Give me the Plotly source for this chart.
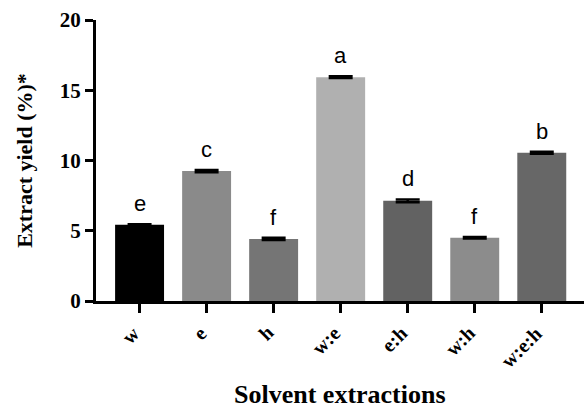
import plotly.graph_objects as go

categories = ["w", "e", "h", "w:e", "e:h", "w:h", "w:e:h"]
yields = [5.42, 9.25, 4.42, 15.93, 7.13, 4.50, 10.55]
errors = [0.05, 0.08, 0.08, 0.06, 0.10, 0.06, 0.07]
letters = ["e", "c", "f", "a", "d", "f", "b"]
colors = ["#000000", "#8a8a8a", "#757575", "#b0b0b0", "#626262", "#8c8c8c", "#676767"]
y_ticks = [0, 5, 10, 15, 20]

serif = "Liberation Serif"
PLOT_BOTTOM = 301.0
PLOT_H = 281.0

fig = go.Figure()
fig.add_trace(go.Bar(
    x=list(range(len(categories))), y=yields,
    marker=dict(color=colors, line=dict(width=0)),
    width=0.73,
    error_y=dict(type="data", array=errors, visible=True, color="black", thickness=2.5, width=12),
    showlegend=False,
))

# significance letters
for i, (v, e, t) in enumerate(zip(yields, errors, letters)):
    fig.add_annotation(x=i, y=v + e, text=t, showarrow=False, yanchor="bottom", yshift=6,
                       font=dict(family="Liberation Sans", size=22, color="black"))

# rotated category labels
for i, c in enumerate(categories):
    fig.add_annotation(x=i, xref="x", y=-(319 - PLOT_BOTTOM) / PLOT_H, yref="paper",
                       text="<b>%s</b>" % c, textangle=-45, showarrow=False,
                       xanchor="right", yanchor="top", xshift=7,
                       font=dict(family=serif, size=20, color="black"))

fig.add_annotation(x=0.5, xref="paper", y=-(394 - PLOT_BOTTOM) / PLOT_H, yref="paper",
                   text="<b>Solvent extractions</b>", yanchor="middle",
                   showarrow=False, font=dict(family=serif, size=26, color="black"))

fig.update_layout(
    width=584, height=408,
    margin=dict(l=96, r=0, t=20, b=107, autoexpand=False),
    plot_bgcolor="white", paper_bgcolor="white",
)

fig.update_xaxes(
    range=[-0.65, 6.63],
    tickmode="array", tickvals=list(range(len(categories))),
    showticklabels=False,
    showline=True, linecolor="black", linewidth=3,
    ticks="outside", ticklen=9, tickwidth=3, tickcolor="black",
    automargin=False,
    showgrid=False, zeroline=False,
)
fig.update_yaxes(
    range=[0, 20], tickvals=y_ticks,
    ticktext=["<b>%d</b>" % v for v in y_ticks],
    showline=True, linecolor="black", linewidth=3,
    ticks="outside", ticklen=8, tickwidth=3, tickcolor="black",
    tickfont=dict(family=serif, size=21, color="black"),
    showgrid=False, zeroline=False, automargin=False,
    title=dict(text="<b>Extract yield (%)*</b>", font=dict(family=serif, size=22, color="black"), standoff=22),
)

fig.write_html("out.html", config={"displayModeBar": False},
               post_script="document.body.style.margin='0px';")
